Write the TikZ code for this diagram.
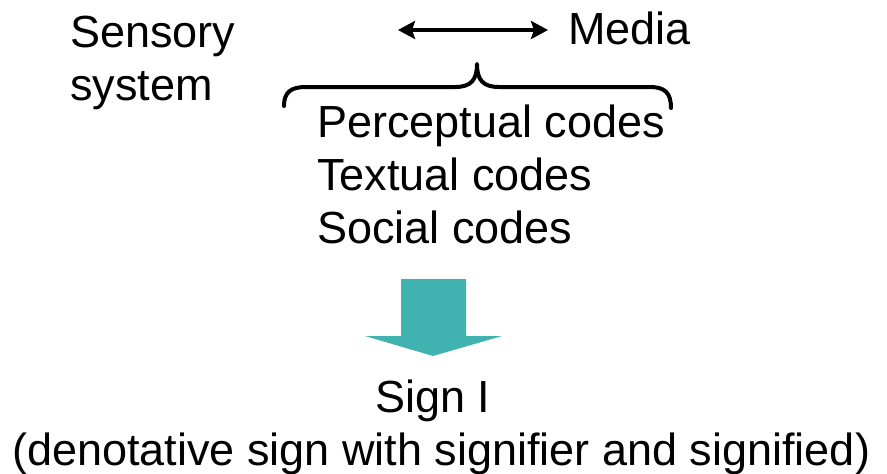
\documentclass[tikz,border=0pt]{standalone}
\usepackage{fontspec}
\setmainfont{Liberation Sans}
\usetikzlibrary{arrows.meta}
\definecolor{tealfill}{RGB}{64,178,176}
\begin{document}
\begin{tikzpicture}[x=1pt,y=-1pt,
  lbl/.style={inner sep=0pt,anchor=base west,font=\fontsize{45}{54}\selectfont},
  link/.style={line width=4.5pt,{Stealth[length=17pt,width=18pt,inset=3pt]}-{Stealth[length=17pt,width=18pt,inset=3pt]}},
  brace/.style={line width=4pt,line cap=round,line join=round}]
\useasboundingbox (0,0) rectangle (887,474);

% labels
\node[lbl] (sensory) at (70,47) {Sensory};
\node[lbl] (system) at (70,100) {system};
\node[lbl] (media) at (568,44) {Media};
\node[lbl] (perc) at (317,137) {Perceptual codes};
\node[lbl] (text) at (317,190) {Textual codes};
\node[lbl] (social) at (317,243) {Social codes};
\node[lbl] (sign) at (375,412) {Sign I};
\node[lbl] (desc) at (12,465) {(denotative sign with signifier and signified)};

% double-headed link toward the media
\coordinate (la) at (398,30);
\coordinate (lb) at (548,30);
\draw[link] (la) -- (lb);

% brace over the code list
\draw[brace] (284,106) .. controls (284,92) and (291,87) .. (306,87)
  -- (455,87) .. controls (471,87) and (477,80) .. (477,64)
  .. controls (477,80) and (483,87) .. (499,87)
  -- (650,87) .. controls (665,87) and (671,93) .. (671,108);

% block arrow down to the sign
\fill[tealfill] (401,279) -- (466,279) -- (466,336) -- (502,336)
  -- (433,356) -- (365,336) -- (401,336) -- cycle;
\end{tikzpicture}
\end{document}
